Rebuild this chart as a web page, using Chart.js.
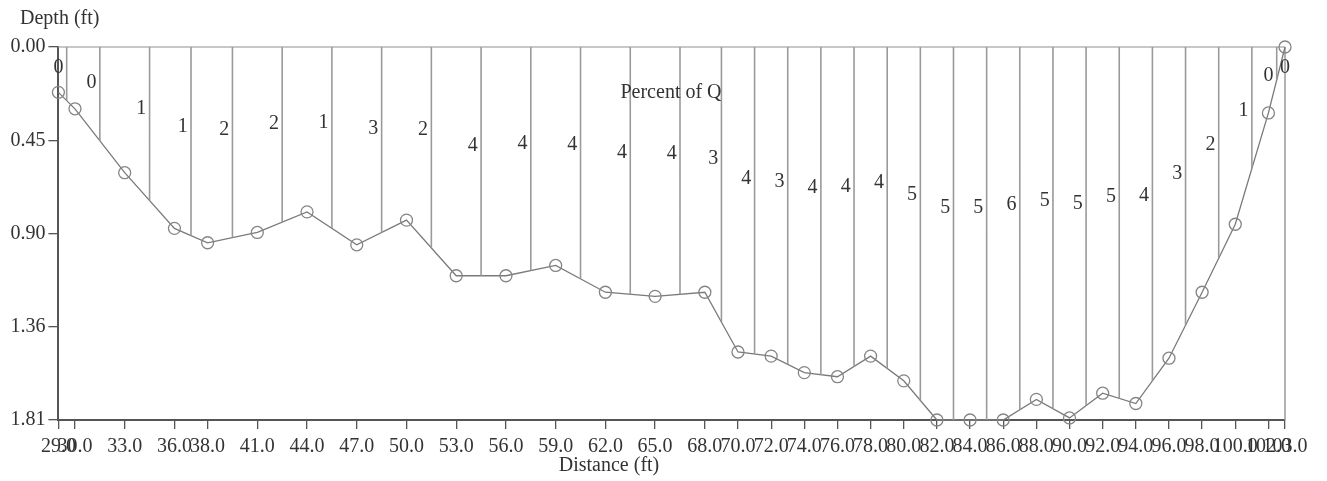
<!DOCTYPE html>
<html>
<head>
<meta charset="utf-8">
<title>Cross section</title>
<script src="https://cdn.jsdelivr.net/npm/chart.js@4"></script>
<style>
  html, body { margin: 0; padding: 0; background: #ffffff; }
  #wrap { width: 1327px; height: 481px; }
</style>
</head>
<body>
<div id="wrap"><canvas id="c" width="1327" height="481"></canvas></div>
<script>
// Measurement stations (ft from initial point) and sounded depths (ft)
const stations = [29, 30, 33, 36, 38, 41, 44, 47, 50, 53, 56, 59, 62, 65, 68, 70, 72,
                  74, 76, 78, 80, 82, 84, 86, 88, 90, 92, 94, 96, 98, 100, 102, 103];
const depths = [0.22, 0.30, 0.61, 0.88, 0.95, 0.90, 0.80, 0.96, 0.84, 1.11, 1.11, 1.06,
                1.19, 1.21, 1.19, 1.48, 1.50, 1.58, 1.60, 1.50, 1.62, 1.81, 1.81, 1.81,
                1.71, 1.80, 1.68, 1.73, 1.51, 1.19, 0.86, 0.32, 0.00];
// Share of total discharge carried by each subsection (%)
const percentQ = [0, 0, 1, 1, 2, 2, 1, 3, 2, 4, 4, 4, 4, 4, 3, 4, 3,
                  4, 4, 4, 5, 5, 5, 6, 5, 5, 5, 4, 3, 2, 1, 0, 0];
// Axis ticks
const depthTicks = [0, 0.4525, 0.905, 1.3575, 1.81];
const depthTickLabels = ['0.00', '0.45', '0.90', '1.36', '1.81'];
const distanceTickLabels = stations.map(s => s.toFixed(1));

const FONT = '"Liberation Serif", "Times New Roman", serif';
const TEXT = '#333333';

function depthAt(x) {
  for (let i = 0; i < stations.length - 1; i++) {
    if (x >= stations[i] && x <= stations[i + 1]) {
      const t = (x - stations[i]) / (stations[i + 1] - stations[i]);
      return depths[i] + t * (depths[i + 1] - depths[i]);
    }
  }
  return depths[depths.length - 1];
}

// Subsection boundaries: verticals from the water surface down to the bed
const boundaryPts = [];
for (let i = 0; i < stations.length - 1; i++) {
  const m = (stations[i] + stations[i + 1]) / 2;
  boundaryPts.push({ x: m, y: 0 }, { x: m, y: depthAt(m) }, { x: m, y: null });
}

const profilePts = stations.map((s, i) => ({ x: s, y: depths[i] }));

const decorations = {
  id: 'decorations',
  beforeDatasetsDraw(chart) {
    const { ctx, chartArea: a } = chart;
    ctx.save();
    ctx.lineWidth = 1.5;
    ctx.strokeStyle = '#b5b5b5';
    ctx.beginPath();
    ctx.moveTo(a.left, a.top);
    ctx.lineTo(a.right, a.top);
    ctx.stroke();
    ctx.strokeStyle = '#9a9a9a';
    ctx.beginPath();
    ctx.moveTo(a.right, a.top);
    ctx.lineTo(a.right, a.bottom);
    ctx.stroke();
    ctx.restore();
  },
  afterDatasetsDraw(chart) {
    const { ctx } = chart;
    const xs = chart.scales.x, ys = chart.scales.y;
    ctx.save();
    ctx.fillStyle = TEXT;
    ctx.font = '20px ' + FONT;
    ctx.textAlign = 'center';
    ctx.textBaseline = 'middle';
    for (let i = 0; i < stations.length; i++) {
      const lx = i < stations.length - 1
        ? stations[i] + (stations[i + 1] - stations[i] - 1) / 2
        : stations[i];
      const ld = Math.max(0.43 * depthAt(lx), 0.1);
      ctx.fillText(String(percentQ[i]), xs.getPixelForValue(lx), ys.getPixelForValue(ld));
    }
    ctx.textBaseline = 'alphabetic';
    ctx.fillText('Percent of Q', 671, 98);
    ctx.fillText('Distance (ft)', 609, 471);
    ctx.textAlign = 'left';
    ctx.fillText('Depth (ft)', 20, 24);
    ctx.restore();
  }
};

new Chart(document.getElementById('c'), {
  type: 'scatter',
  data: {
    datasets: [
      {
        data: boundaryPts,
        showLine: true,
        spanGaps: false,
        borderColor: '#9a9a9a',
        borderWidth: 1.6,
        pointRadius: 0
      },
      {
        data: profilePts,
        showLine: true,
        borderColor: '#7a7a7a',
        borderWidth: 1.3,
        pointRadius: 6,
        pointBorderColor: '#858585',
        pointBorderWidth: 1.3,
        pointBackgroundColor: 'rgba(0,0,0,0)',
        clip: false
      }
    ]
  },
  options: {
    responsive: false,
    animation: false,
    devicePixelRatio: 1,
    layout: { padding: { top: 47, right: 42, bottom: 0, left: 0 } },
    plugins: { legend: { display: false }, tooltip: { enabled: false }, title: { display: false } },
    scales: {
      x: {
        type: 'linear',
        min: 29,
        max: 103,
        afterFit(s) { s.height = 61; },
        afterBuildTicks(s) { s.ticks = stations.map(v => ({ value: v })); },
        grid: { drawOnChartArea: false, drawTicks: true, tickLength: 9, color: '#555', lineWidth: 1.3 },
        border: { display: true, color: '#555', width: 2 },
        ticks: {
          autoSkip: false,
          maxRotation: 0,
          minRotation: 0,
          padding: 6,
          color: TEXT,
          font: { family: FONT, size: 20 },
          callback: (v, i) => distanceTickLabels[i]
        }
      },
      y: {
        type: 'linear',
        reverse: true,
        min: 0,
        max: 1.81,
        afterFit(s) { s.width = 58.4; },
        afterBuildTicks(s) { s.ticks = depthTicks.map(v => ({ value: v })); },
        grid: { drawOnChartArea: false, drawTicks: true, tickLength: 10, color: '#555', lineWidth: 1.3 },
        border: { display: true, color: '#555', width: 2 },
        ticks: {
          autoSkip: false,
          padding: 3,
          color: TEXT,
          font: { family: FONT, size: 20 },
          callback: (v, i) => depthTickLabels[i]
        }
      }
    }
  },
  plugins: [decorations]
});
</script>
</body>
</html>
